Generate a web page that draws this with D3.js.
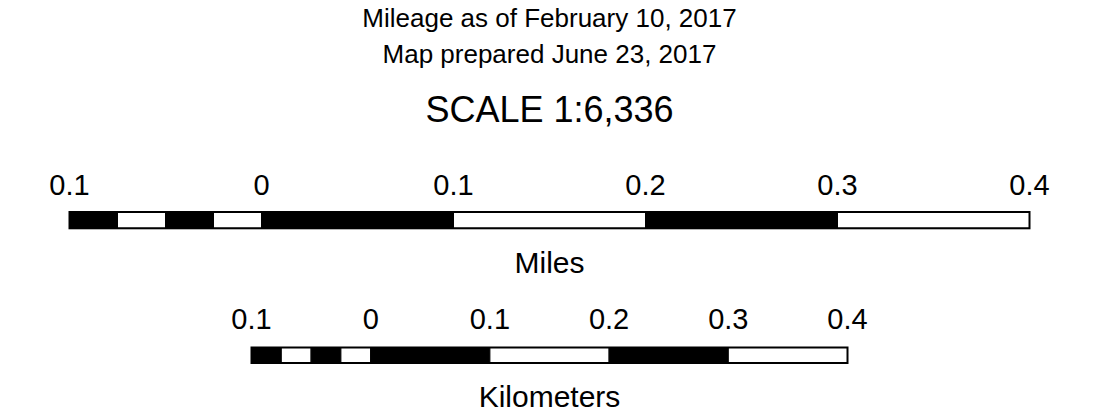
<!DOCTYPE html>
<html>
<head>
<meta charset="utf-8">
<script src="https://cdn.jsdelivr.net/npm/d3@7"></script>
<style>
  html, body { margin: 0; padding: 0; background: #fff; }
  svg { display: block; font-family: "Liberation Sans", Arial, Helvetica, sans-serif; }
</style>
</head>
<body>
<div id="chart"></div>
<script>
// Scale bar data
const titleLines = ["Mileage as of February 10, 2017", "Map prepared June 23, 2017"];
const scaleTitle = "SCALE 1:6,336";
const tickValues = [-0.1, 0, 0.1, 0.2, 0.3, 0.4];
const tickLabels = ["0.1", "0", "0.1", "0.2", "0.3", "0.4"];
// segment breaks: left unit split in quarters, then whole units
const segmentBreaks = [-0.1, -0.075, -0.05, -0.025, 0, 0.1, 0.2, 0.3, 0.4];
const unitNames = ["Miles", "Kilometers"];

const width = 1108, height = 417;
const cx = 549.5;

const svg = d3.select("#chart").append("svg")
    .attr("width", width)
    .attr("height", height);

// Titles
svg.selectAll("text.title")
    .data(titleLines)
    .enter().append("text")
    .attr("class", "title")
    .attr("x", cx)
    .attr("y", (d, i) => 27 + i * 35.5)
    .attr("text-anchor", "middle")
    .style("font-size", "26px")
    .attr("fill", "#000")
    .text(d => d);

svg.append("text")
    .attr("x", cx)
    .attr("y", 122)
    .attr("text-anchor", "middle")
    .style("font-size", "36px")
    .attr("fill", "#000")
    .text(scaleTitle);

// Bar layouts
const bars = [
    { name: unitNames[0], range: [69.5, 1029.5], labelY: 195, barY: 212, barH: 16.3, nameY: 273 },
    { name: unitNames[1], range: [251.5, 847.5], labelY: 329, barY: 347.5, barH: 15.5, nameY: 407 }
];

bars.forEach(b => {
    const x = d3.scaleLinear().domain(d3.extent(tickValues)).range(b.range);
    const g = svg.append("g");

    // tick labels
    g.selectAll("text.tick")
        .data(tickValues)
        .enter().append("text")
        .attr("class", "tick")
        .attr("x", d => x(d))
        .attr("y", b.labelY)
        .attr("text-anchor", "middle")
        .style("font-size", "29px")
        .attr("fill", "#000")
        .text((d, i) => tickLabels[i]);

    // alternating segments
    const segs = d3.pairs(segmentBreaks);
    g.selectAll("rect.seg")
        .data(segs)
        .enter().append("rect")
        .attr("class", "seg")
        .attr("x", d => x(d[0]))
        .attr("y", b.barY)
        .attr("width", d => x(d[1]) - x(d[0]))
        .attr("height", b.barH)
        .attr("fill", (d, i) => i % 2 === 0 ? "#000" : "#fff")
        .attr("stroke", "#000")
        .attr("stroke-width", 1);

    // outline
    g.append("rect")
        .attr("x", b.range[0])
        .attr("y", b.barY)
        .attr("width", b.range[1] - b.range[0])
        .attr("height", b.barH)
        .attr("fill", "none")
        .attr("stroke", "#000")
        .attr("stroke-width", 2);

    // unit name
    g.append("text")
        .attr("x", cx)
        .attr("y", b.nameY)
        .attr("text-anchor", "middle")
        .style("font-size", "30px")
        .attr("fill", "#000")
        .text(b.name);
});
</script>
</body>
</html>
